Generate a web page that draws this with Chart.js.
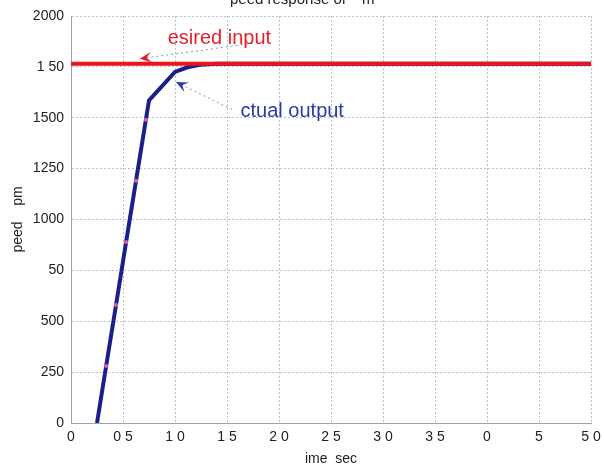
<!DOCTYPE html>
<html lang="en">
<head>
  <meta charset="UTF-8">
  <title>Speed response</title>
  <style>
    html, body { margin: 0; padding: 0; background: #fff; }
    #wrap { width: 604px; height: 472px; }
  </style>
  <script src="https://cdn.jsdelivr.net/npm/chart.js@4.4.0/dist/chart.umd.min.js"></script>
</head>
<body>
<div id="wrap"><canvas id="myChart" width="604" height="472"></canvas></div>
<script>
// values
var timeTicks = [0, 0.5, 1.0, 1.5, 2.0, 2.5, 3.0, 3.5, 4.0, 4.5, 5.0];
var timeLabels = ['0', '0 5', '1 0', '1 5', '2 0', '2 5', '3 0', '3 5', '0', '5', '5 0'];
var speedTicks = [0, 250, 500, 750, 1000, 1250, 1500, 1750, 2000];
var speedLabels = ['0', '250', '500', '50', '1000', '1250', '1500', '1 50', '2000'];

var actualTime  = [0.25, 0.338, 0.433, 0.53, 0.625, 0.72, 0.75, 1.0, 1.12, 1.24, 1.4, 5.0];
var actualSpeed = [0, 280, 580, 890, 1190, 1490, 1585, 1725, 1748, 1760, 1765, 1765];
var desiredTime  = [0, 5.0];
var desiredSpeed = [1765, 1765];

// annotation anchors, in data units
var notes = [
  { text: 'esired input', color: '#e3202c', tx: 0.93, ty: 1890, from: [1.84, 1872], to: [0.66, 1790] },
  { text: 'ctual output', color: '#2b3aa6', tx: 1.63, ty: 1530, from: [1.55, 1540], to: [1.01, 1676] }
];

function pts(xs, ys) {
  var out = [];
  for (var i = 0; i < xs.length; i++) out.push({ x: xs[i], y: ys[i] });
  return out;
}

// pink sample marks on the ramp only
var markColors = actualSpeed.map(function (v, i) {
  return (i >= 1 && i <= 5) ? '#e0609a' : 'rgba(0,0,0,0)';
});

var notePlugin = {
  id: 'notes',
  afterDatasetsDraw: function (chart) {
    var ctx = chart.ctx, xs = chart.scales.x, ys = chart.scales.y;
    ctx.save();
    notes.forEach(function (n) {
      var x1 = xs.getPixelForValue(n.from[0]), y1 = ys.getPixelForValue(n.from[1]);
      var x2 = xs.getPixelForValue(n.to[0]), y2 = ys.getPixelForValue(n.to[1]);
      ctx.strokeStyle = '#8a8fb0';
      ctx.lineWidth = 1;
      ctx.setLineDash([2, 3]);
      ctx.beginPath(); ctx.moveTo(x1, y1); ctx.lineTo(x2, y2); ctx.stroke();
      ctx.setLineDash([]);
      var a = Math.atan2(y2 - y1, x2 - x1);
      ctx.fillStyle = n.color;
      ctx.beginPath();
      ctx.moveTo(x2, y2);
      ctx.lineTo(x2 - 13 * Math.cos(a - 0.42), y2 - 13 * Math.sin(a - 0.42));
      ctx.lineTo(x2 - 7 * Math.cos(a), y2 - 7 * Math.sin(a));
      ctx.lineTo(x2 - 13 * Math.cos(a + 0.42), y2 - 13 * Math.sin(a + 0.42));
      ctx.closePath(); ctx.fill();
      ctx.font = '20px "Liberation Sans", Arial, sans-serif';
      ctx.textBaseline = 'middle';
      ctx.textAlign = 'left';
      ctx.fillText(n.text, xs.getPixelForValue(n.tx), ys.getPixelForValue(n.ty));
    });
    // title, clipped at the top edge of the scan
    ctx.fillStyle = '#222';
    ctx.font = '15px "Liberation Sans", Arial, sans-serif';
    ctx.textBaseline = 'alphabetic';
    ctx.textAlign = 'left';
    ctx.fillText('peed response of', 230, 4);
    ctx.fillText('m', 362, 4);
    ctx.restore();
  }
};

var gridStyle = { color: '#bcbfd2', lineWidth: 1, tickLength: 0 };
var ctx = document.getElementById('myChart').getContext('2d');
var chart = new Chart(ctx, {
  type: 'line',
  data: {
    datasets: [{
      label: 'actual output',
      data: pts(actualTime, actualSpeed),
      borderColor: '#1b1f8c',
      borderWidth: 4,
      pointRadius: 2,
      pointBorderWidth: 0,
      pointBackgroundColor: markColors,
      tension: 0,
      order: 2
    }, {
      label: 'desired input',
      data: pts(desiredTime, desiredSpeed),
      borderColor: '#e8141e',
      borderWidth: 4,
      pointRadius: 0,
      tension: 0,
      order: 1
    }]
  },
  options: {
    responsive: false,
    animation: false,
    layout: { padding: { top: 16, right: 13, left: 0, bottom: 0 } },
    plugins: { legend: { display: false }, tooltip: { enabled: false } },
    scales: {
      x: {
        type: 'linear', min: 0, max: 5,
        afterBuildTicks: function (s) { s.ticks = timeTicks.map(function (v) { return { value: v }; }); },
        afterFit: function (s) { s.height = 49; s.paddingRight = 0; s.paddingLeft = 0; },
        ticks: {
          color: '#222', padding: 6,
          font: { family: '"Liberation Sans", Arial, sans-serif', size: 14 },
          maxRotation: 0, autoSkip: false,
          callback: function (v) { var i = timeTicks.indexOf(v); return i < 0 ? '' : timeLabels[i]; }
        },
        grid: gridStyle,
        border: { display: true, color: '#9da0b8', dash: [2, 2] },
        title: {
          display: true, text: 'ime  sec', color: '#222', padding: { top: 0 },
          font: { family: '"Liberation Sans", Arial, sans-serif', size: 14 }
        }
      },
      y: {
        min: 0, max: 2000,
        afterBuildTicks: function (s) { s.ticks = speedTicks.map(function (v) { return { value: v }; }); },
        afterFit: function (s) { s.width = 71; s.paddingTop = 0; s.paddingBottom = 0; },
        ticks: {
          color: '#222', padding: 7,
          font: { family: '"Liberation Sans", Arial, sans-serif', size: 14 },
          callback: function (v) { var i = speedTicks.indexOf(v); return i < 0 ? '' : speedLabels[i]; }
        },
        grid: gridStyle,
        border: { display: true, color: '#9da0b8', dash: [2, 2] },
        title: {
          display: true, text: 'peed    pm', color: '#222', padding: { top: 10, bottom: 0 },
          font: { family: '"Liberation Sans", Arial, sans-serif', size: 14 }
        }
      }
    }
  },
  plugins: [notePlugin]
});
</script>
</body>
</html>
